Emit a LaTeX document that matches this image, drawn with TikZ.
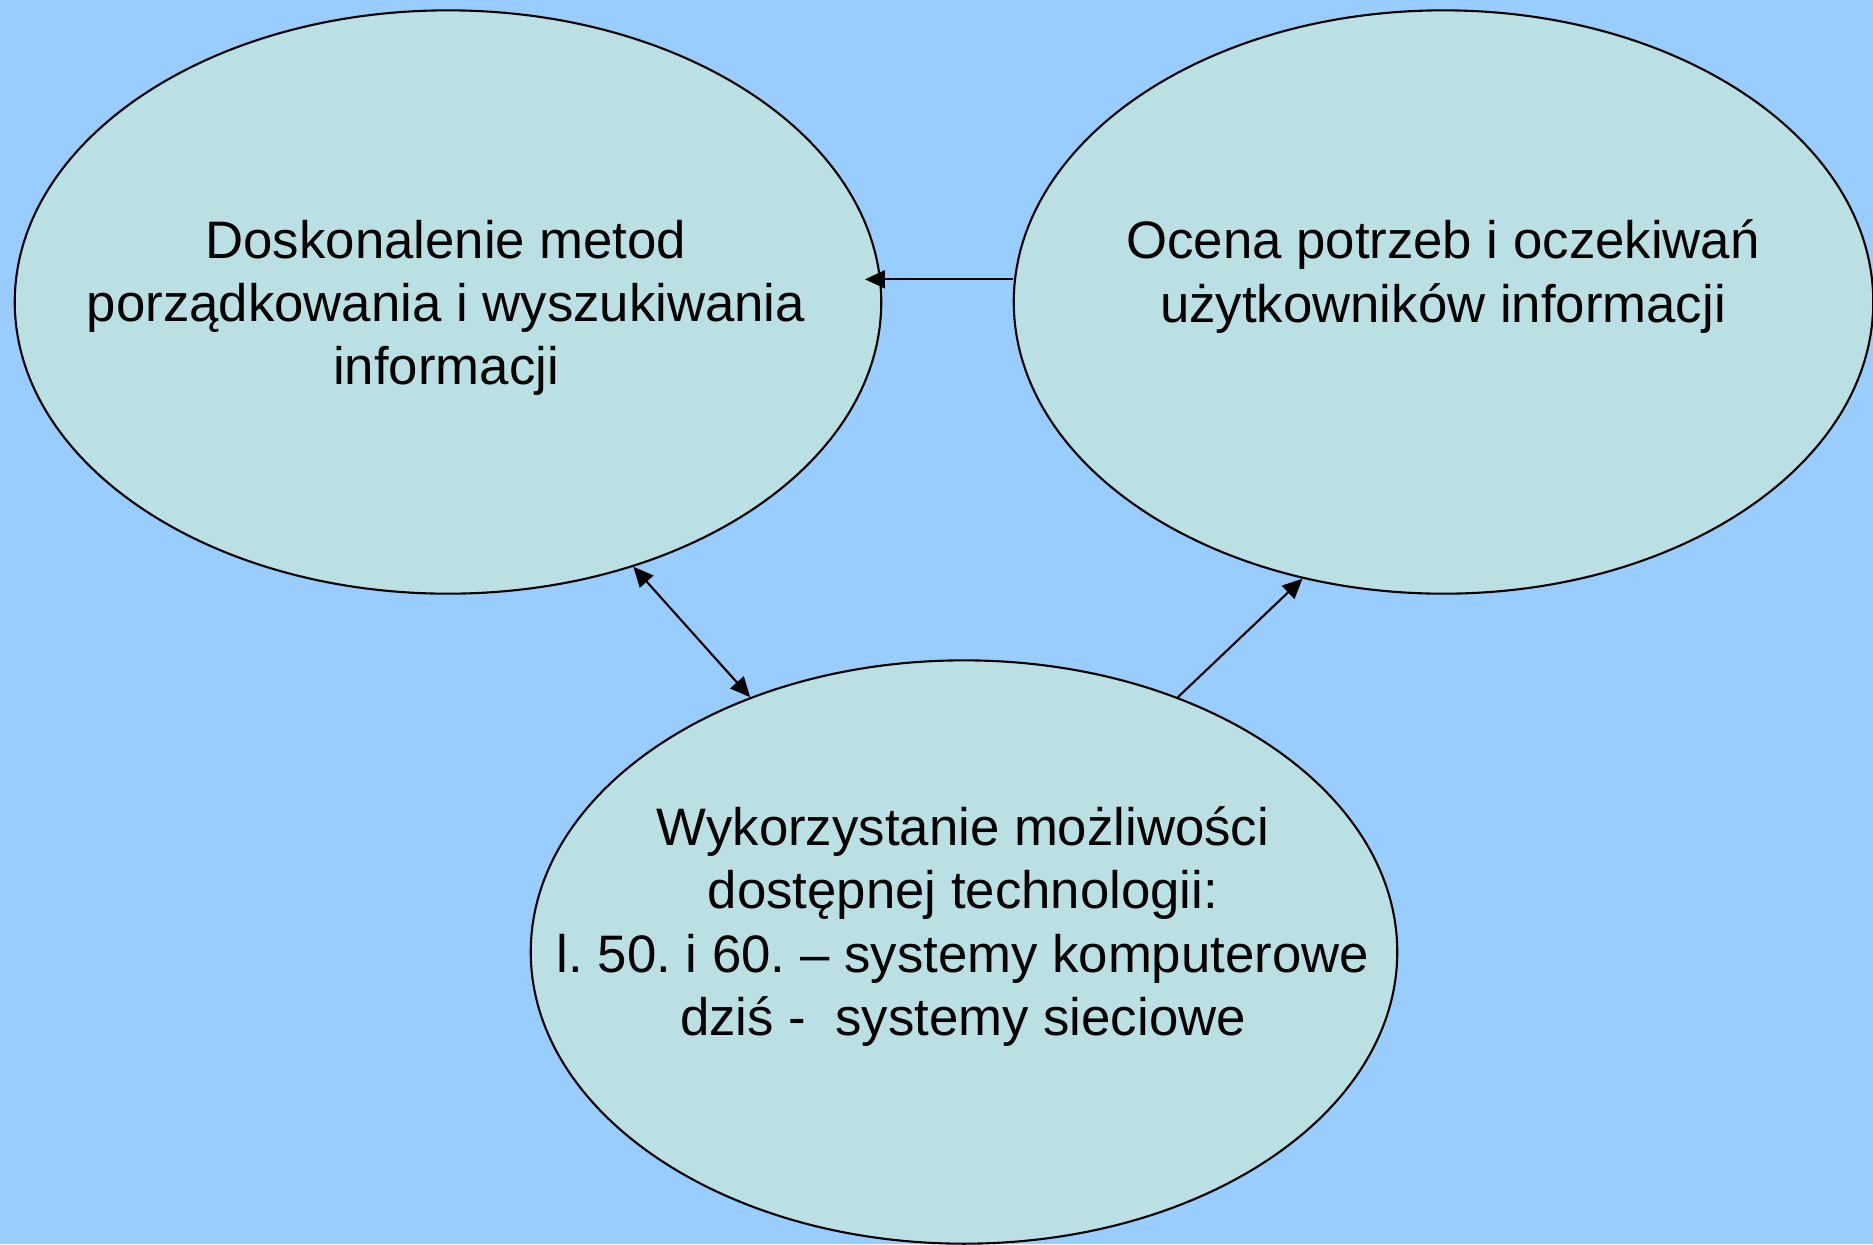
\documentclass[tikz,border=0pt]{standalone}
\usepackage{fontspec}
\setmainfont{Liberation Sans}
\usetikzlibrary{shapes.geometric,arrows.meta}
\definecolor{bgblue}{RGB}{153,204,255}
\definecolor{ovalfill}{RGB}{187,224,227}
\frenchspacing
\begin{document}
\begin{tikzpicture}[x=0.01cm, y=-0.01cm,
  oval/.style={shape=ellipse, draw=black, line width=0.6pt, fill=ovalfill, minimum width=8.66cm, minimum height=5.83cm, inner sep=0pt},
  txt/.style={align=center, inner sep=0pt, font=\fontsize{15pt}{18pt}\selectfont},
  link/.style={line width=0.6pt, draw=black, >={Triangle[length=0.2cm, width=0.18cm]}}]
\useasboundingbox[fill=bgblue] (0,0) rectangle (1873,1244);
\node[oval] (L) at (448, 302) {};
\node[oval, minimum width=8.59cm] (R) at (1443.5, 302) {};
\node[oval] (B) at (964, 952) {};
\node[txt] (Ltext) at (446, 308) {Doskonalenie metod\\porządkowania i wyszukiwania\\informacji};
\node[txt] (Rtext) at (1443, 276.5) {Ocena potrzeb i oczekiwań\\użytkowników informacji};
\node[txt] (Btext) at (963, 926.5) {Wykorzystanie możliwości\\dostępnej technologii:\\l. 50. i 60. – systemy komputerowe\\dziś -\ \ systemy sieciowe};
\draw [<-, link, shorten <=-0.16cm] (L.3.7) -- (R.west |- L.3.7);
\draw [<->, link] (L.-55.5) -- (B.130.1);
\draw [->, link] (B.50) -- (R.-117.8);
\end{tikzpicture}
\end{document}
